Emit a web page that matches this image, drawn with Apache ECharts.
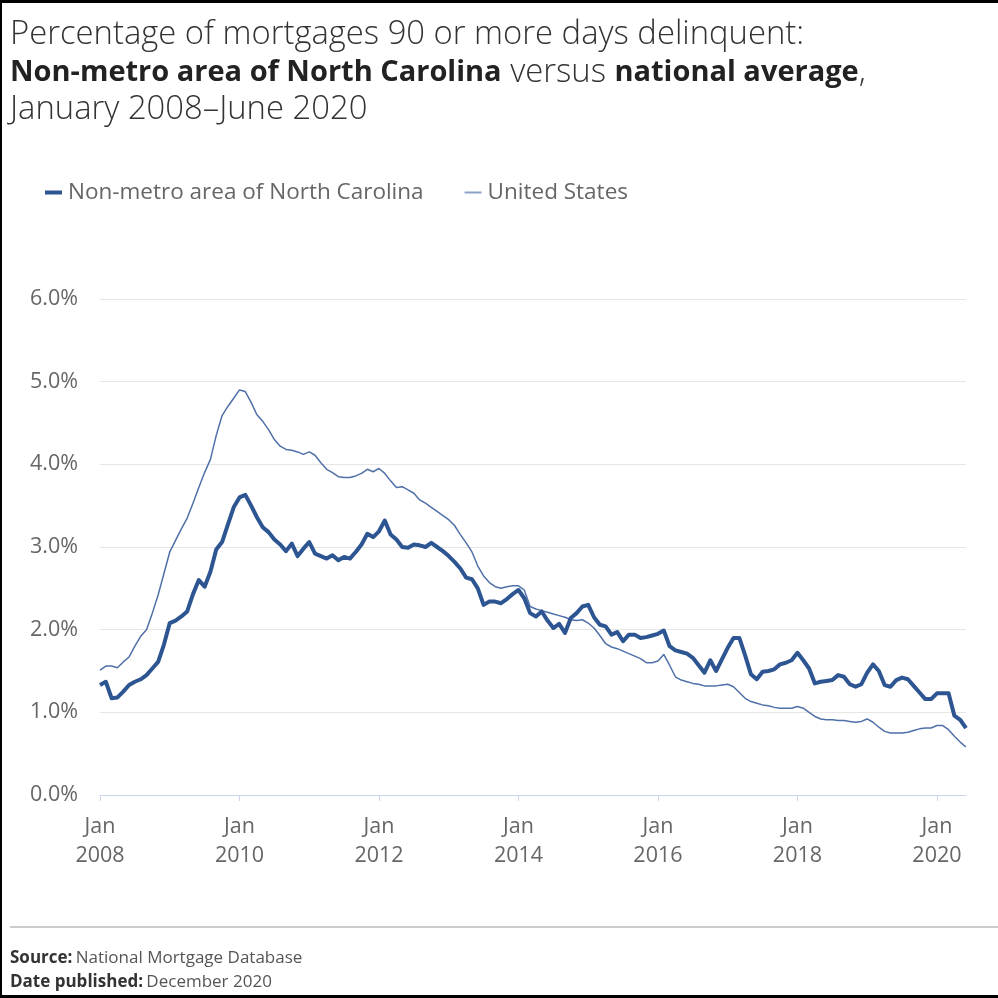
<!DOCTYPE html>
<html>
<head>
<meta charset="utf-8">
<script src="https://cdn.jsdelivr.net/npm/echarts@6/dist/echarts.min.js"></script>
<style>
html,body{margin:0;padding:0;background:#fff;}
#chart{width:998px;height:998px;}
</style>
</head>
<body>
<div id="chart"></div>
<script>
// Monthly, January 2008 – June 2020 (150 months)
const startYear = 2008;
const monthCount = 150;
const yTicks = [0, 1, 2, 3, 4, 5, 6];
const seriesNames = ['Non-metro area of North Carolina', 'United States'];

const ncValues = [
  1.33,1.37,1.17,1.18,1.25,1.33,1.37,1.40,1.45,1.53,1.61,1.82,
  2.08,2.11,2.16,2.22,2.43,2.60,2.52,2.70,2.97,3.06,3.27,3.48,
  3.60,3.63,3.50,3.36,3.24,3.18,3.09,3.03,2.95,3.04,2.89,2.98,
  3.06,2.92,2.89,2.86,2.90,2.84,2.88,2.86,2.94,3.03,3.16,3.12,
  3.19,3.32,3.15,3.09,3.00,2.99,3.03,3.02,3.00,3.05,3.00,2.95,
  2.89,2.82,2.74,2.63,2.61,2.50,2.30,2.34,2.34,2.32,2.37,2.43,
  2.48,2.38,2.20,2.16,2.22,2.11,2.02,2.07,1.96,2.14,2.20,2.28,
  2.30,2.15,2.06,2.04,1.94,1.97,1.86,1.94,1.94,1.90,1.91,1.93,
  1.95,1.99,1.80,1.75,1.73,1.71,1.66,1.57,1.48,1.63,1.50,1.64,
  1.78,1.90,1.90,1.69,1.46,1.40,1.49,1.50,1.52,1.58,1.60,1.63,
  1.72,1.63,1.53,1.35,1.37,1.38,1.39,1.45,1.43,1.34,1.31,1.34,
  1.48,1.58,1.50,1.33,1.31,1.39,1.42,1.40,1.32,1.24,1.16,1.16,
  1.23,1.23,1.23,0.96,0.91,0.81
];

const usValues = [
  1.51,1.56,1.56,1.54,1.61,1.67,1.80,1.92,2.00,2.20,2.42,2.68,
  2.94,3.08,3.22,3.35,3.53,3.72,3.90,4.06,4.35,4.59,4.70,4.80,
  4.90,4.88,4.75,4.60,4.52,4.42,4.30,4.22,4.18,4.17,4.15,4.12,
  4.15,4.11,4.02,3.94,3.90,3.85,3.84,3.84,3.86,3.89,3.94,3.91,
  3.95,3.89,3.80,3.72,3.73,3.69,3.65,3.57,3.53,3.48,3.43,3.38,
  3.33,3.26,3.15,3.05,2.94,2.77,2.65,2.57,2.52,2.50,2.52,2.53,
  2.53,2.48,2.28,2.25,2.23,2.21,2.19,2.17,2.15,2.12,2.11,2.12,
  2.08,2.02,1.93,1.83,1.79,1.77,1.74,1.71,1.68,1.65,1.60,1.60,
  1.62,1.70,1.57,1.43,1.39,1.37,1.35,1.34,1.32,1.32,1.32,1.33,
  1.34,1.31,1.24,1.17,1.13,1.11,1.09,1.08,1.06,1.05,1.05,1.05,
  1.07,1.05,1.00,0.95,0.92,0.91,0.91,0.90,0.90,0.89,0.88,0.89,
  0.92,0.88,0.82,0.77,0.75,0.75,0.75,0.76,0.78,0.80,0.81,0.81,
  0.84,0.84,0.79,0.71,0.64,0.58
];

const monthNames = ['Jan','Feb','Mar','Apr','May','Jun','Jul','Aug','Sep','Oct','Nov','Dec'];
const categories = [];
for (let i = 0; i < monthCount; i++) {
  categories.push(monthNames[i % 12] + ' ' + (startYear + Math.floor(i / 12)));
}

const chart = echarts.init(document.getElementById('chart'), null, {renderer: 'canvas'});
const FONT = '"Open Sans", sans-serif';
const NC_COLOR = '#2c5591';
const US_COLOR = '#4f70a8';

chart.setOption({
  backgroundColor: '#ffffff',
  animation: false,
  title: {
    left: 5, top: 11,
    text: '{n|Percentage of mortgages 90 or more days delinquent:}\n{b|Non-metro area of North Carolina}{n| versus }{b|national average}{n|,}\n{n|January 2008\u2013June 2020}',
    textStyle: {
      rich: {
        n: {fontFamily: FONT, fontSize: 32.8, fontWeight: 300, color: '#333', lineHeight: 37.5},
        b: {fontFamily: FONT, fontSize: 29, fontWeight: 'bold', color: '#222', lineHeight: 37.5}
      }
    }
  },
  legend: {
    left: 40, top: 176,
    itemWidth: 17, itemHeight: 4,
    itemGap: 41,
    textStyle: {fontFamily: FONT, fontSize: 22.5, color: '#666', padding: [0, 0, 0, 1]},
    data: [
      {name: seriesNames[0], icon: 'rect', itemStyle: {color: NC_COLOR}},
      {name: seriesNames[1],
       icon: 'path://M0,0H0.01V0.01H0Z M0,1H17V3H0Z M16.99,3.99H17V4H16.99Z',
       itemStyle: {color: '#8da2c9'}}
    ]
  },
  grid: {left: 100, right: 32, top: 299, bottom: 203, containLabel: false},
  xAxis: {
    type: 'category',
    data: categories,
    boundaryGap: false,
    axisLine: {show: true, lineStyle: {color: '#ccd6eb', width: 1}},
    axisTick: {
      show: true, length: 6, lineStyle: {color: '#ccd6eb'},
      interval: function (i) { return i % 24 === 0; }
    },
    axisLabel: {
      interval: function (i) { return i % 24 === 0; },
      formatter: function (v) { const p = v.split(' '); return p[0] + '\n' + p[1]; },
      fontFamily: FONT, fontSize: 21.5, color: '#666', lineHeight: 29, margin: 17
    },
    splitLine: {show: false}
  },
  yAxis: {
    type: 'value',
    min: yTicks[0], max: yTicks[yTicks.length - 1], interval: 1,
    axisLine: {show: false},
    axisTick: {show: false},
    axisLabel: {
      formatter: function (v) { return v.toFixed(1) + '%'; },
      fontFamily: FONT, fontSize: 21.5, color: '#666', margin: 22
    },
    splitLine: {lineStyle: {color: '#e6e6e6', width: 1}}
  },
  series: [
    {
      name: seriesNames[0], type: 'line', data: ncValues,
      symbol: 'none', smooth: false, z: 3,
      lineStyle: {color: NC_COLOR, width: 4, join: 'round'},
      itemStyle: {color: NC_COLOR}
    },
    {
      name: seriesNames[1], type: 'line', data: usValues,
      symbol: 'none', smooth: false, z: 2,
      lineStyle: {color: US_COLOR, width: 1.5},
      itemStyle: {color: '#8da2c9'}
    }
  ],
  graphic: [
    {type: 'rect', shape: {x: 0, y: 0, width: 998, height: 3}, style: {fill: '#000'}},
    {type: 'rect', shape: {x: 0, y: 0, width: 2, height: 998}, style: {fill: '#000'}},
    {type: 'rect', shape: {x: 0, y: 995, width: 998, height: 3}, style: {fill: '#000'}},
    {type: 'rect', shape: {x: 10, y: 926, width: 988, height: 2}, style: {fill: '#cccccc'}},
    {
      type: 'text', left: 10, top: 950,
      style: {
        text: '{b|Source:} {n|National Mortgage Database}',
        rich: {
          b: {fontFamily: FONT, fontSize: 17, fontWeight: 'bold', fill: '#333'},
          n: {fontFamily: FONT, fontSize: 17, fill: '#555'}
        }
      }
    },
    {
      type: 'text', left: 10, top: 974,
      style: {
        text: '{b|Date published:} {n|December 2020}',
        rich: {
          b: {fontFamily: FONT, fontSize: 17, fontWeight: 'bold', fill: '#333'},
          n: {fontFamily: FONT, fontSize: 17, fill: '#555'}
        }
      }
    }
  ]
});
</script>
</body>
</html>
